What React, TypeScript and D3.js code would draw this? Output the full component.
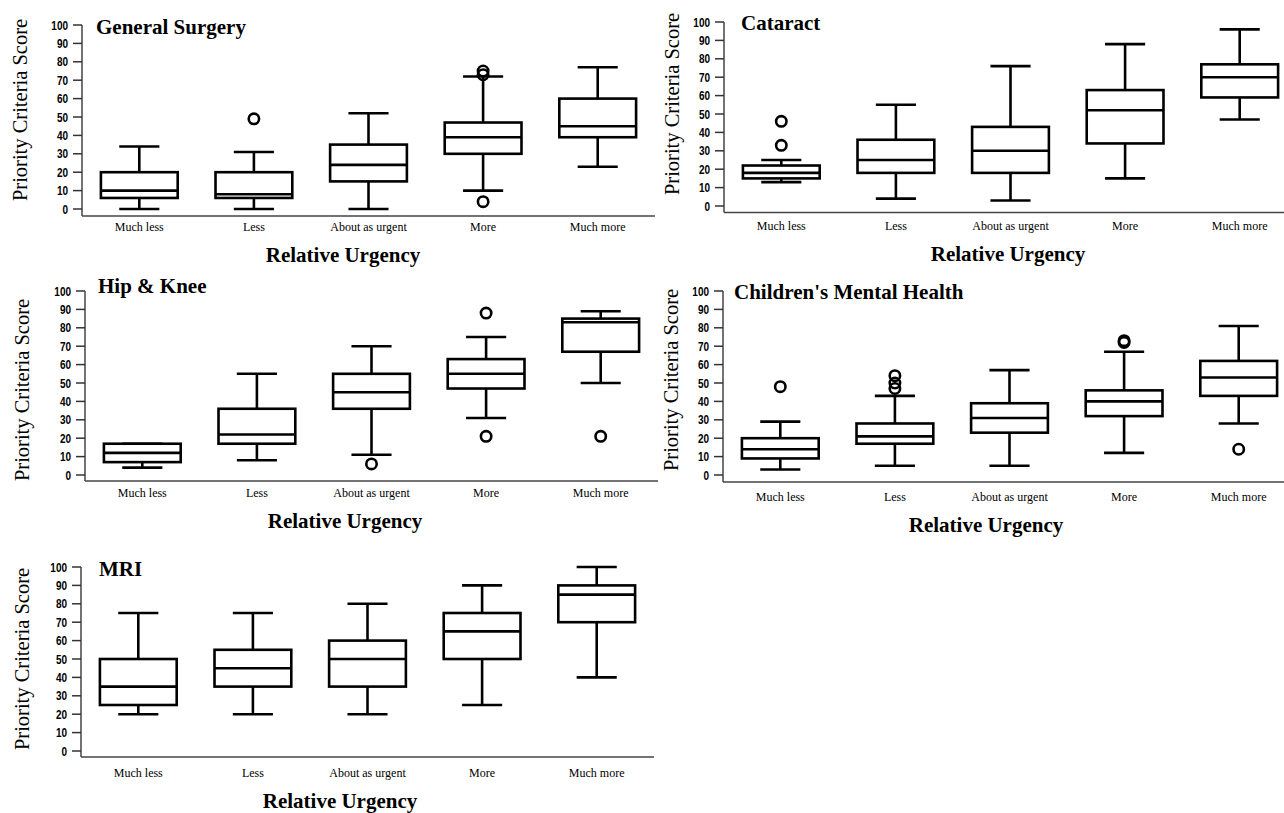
import * as d3 from "d3";
import { useEffect, useRef } from "react";

const categories = ["Much less", "Less", "About as urgent", "More", "Much more"];
const yTicks = [0, 10, 20, 30, 40, 50, 60, 70, 80, 90, 100];

// each box: [low whisker, q1, median, q3, high whisker]
const surgeryBoxes = [[0, 6, 10, 20, 34], [0, 6, 8, 20, 31], [0, 15, 24, 35, 52], [10, 30, 39, 47, 72], [23, 39, 45, 60, 77]];
const surgeryOutliers = [[], [49], [], [75, 73, 4], []];

const cataractBoxes = [[13, 15, 18, 22, 25], [4, 18, 25, 36, 55], [3, 18, 30, 43, 76], [15, 34, 52, 63, 88], [47, 59, 70, 77, 96]];
const cataractOutliers = [[46, 33], [], [], [], []];

const hipKneeBoxes = [[4, 7, 12, 17, 17], [8, 17, 22, 36, 55], [11, 36, 45, 55, 70], [31, 47, 55, 63, 75], [50, 67, 83, 85, 89]];
const hipKneeOutliers = [[], [], [6], [88, 21], [21]];

const mentalHealthBoxes = [[3, 9, 14, 20, 29], [5, 17, 21, 28, 43], [5, 23, 31, 39, 57], [12, 32, 40, 46, 67], [28, 43, 53, 62, 81]];
const mentalHealthOutliers = [[48], [54, 50, 47], [], [73, 72], [14]];

const mriBoxes = [[20, 25, 35, 50, 75], [20, 35, 45, 55, 75], [20, 35, 50, 60, 80], [25, 50, 65, 75, 90], [40, 70, 85, 90, 100]];
const mriOutliers = [[], [], [], [], []];

type Panel = {
    title: string;
    boxes: number[][];
    outliers: number[][];
    left: number; right: number; y100: number; y0: number; axisY: number;
    titleX: number; titleY: number;
    yLabelX: number; yLabelY: number;
    tickY: number;
    xTitleX: number; xTitleY: number;
};

const panels: Panel[] = [
    { title: "General Surgery", boxes: surgeryBoxes, outliers: surgeryOutliers,
      left: 82, right: 655, y100: 25, y0: 209, axisY: 216, titleX: 96, titleY: 34,
      yLabelX: 27, yLabelY: 110, tickY: 231, xTitleX: 343, xTitleY: 262 },
    { title: "Cataract", boxes: cataractBoxes, outliers: cataractOutliers,
      left: 724, right: 1297, y100: 22, y0: 206, axisY: 212.5, titleX: 741, titleY: 30,
      yLabelX: 679, yLabelY: 104, tickY: 230, xTitleX: 1008, xTitleY: 261 },
    { title: "Hip & Knee", boxes: hipKneeBoxes, outliers: hipKneeOutliers,
      left: 85, right: 658, y100: 291, y0: 475, axisY: 481, titleX: 98, titleY: 293,
      yLabelX: 29, yLabelY: 390, tickY: 497, xTitleX: 345, xTitleY: 528 },
    { title: "Children's Mental Health", boxes: mentalHealthBoxes, outliers: mentalHealthOutliers,
      left: 723, right: 1296, y100: 291, y0: 475, axisY: 482, titleX: 734, titleY: 299,
      yLabelX: 678, yLabelY: 380, tickY: 501, xTitleX: 986, xTitleY: 532 },
    { title: "MRI", boxes: mriBoxes, outliers: mriOutliers,
      left: 81, right: 654, y100: 567, y0: 751, axisY: 757, titleX: 99, titleY: 576,
      yLabelX: 29, yLabelY: 659, tickY: 777, xTitleX: 340, xTitleY: 808 },
];

const serif = "'Liberation Serif', 'Times New Roman', serif";
const sans = "'Liberation Sans', Arial, sans-serif";

const App = () => {
    const ref = useRef<SVGSVGElement | null>(null);

    useEffect(() => {
        if (!ref.current) return;
        const svg = d3.select(ref.current);
        svg.selectAll("*").remove();

        panels.forEach(p => {
            const g = svg.append("g");

            const x = d3.scaleBand().domain(categories).range([p.left, p.right]).padding(0);
            const y = d3.scaleLinear().domain([0, 100]).range([p.y0, p.y100]);
            const bw = x.bandwidth();
            const boxW = bw * 0.67;
            const capW = bw * 0.35;

            // axes
            g.append("line")
                .attr("x1", p.left).attr("x2", p.left)
                .attr("y1", y(100)).attr("y2", p.axisY)
                .attr("stroke", "#444").attr("stroke-width", 1.5);
            g.append("line")
                .attr("x1", p.left).attr("x2", p.right)
                .attr("y1", p.axisY).attr("y2", p.axisY)
                .attr("stroke", "#444").attr("stroke-width", 1.5);

            g.selectAll(".ytick")
                .data(yTicks)
                .join("line")
                .attr("x1", p.left - 9).attr("x2", p.left)
                .attr("y1", d => y(d)).attr("y2", d => y(d))
                .attr("stroke", "#333").attr("stroke-width", 1.5);

            // narrow bold tick numbers (condensed by a horizontal scale)
            g.selectAll(".ylab")
                .data(yTicks)
                .join("text")
                .attr("transform", d => `translate(${p.left - 14},${y(d) + 4.5}) scale(0.8,1)`)
                .attr("text-anchor", "end")
                .style("font-family", sans)
                .style("font-weight", "bold")
                .style("font-size", "12.5px")
                .text(d => d);

            g.selectAll(".xlab")
                .data(categories)
                .join("text")
                .attr("x", d => x(d)! + bw / 2)
                .attr("y", p.tickY)
                .attr("text-anchor", "middle")
                .style("font-family", serif)
                .style("font-size", "12px")
                .text(d => d);

            // boxes
            p.boxes.forEach((b, i) => {
                const cx = x(categories[i])! + bw / 2;
                const [lo, q1, med, q3, hi] = b;
                const bx = g.append("g")
                    .attr("stroke", "#000")
                    .attr("stroke-width", 2.6)
                    .attr("fill", "none");
                bx.append("line").attr("x1", cx).attr("x2", cx).attr("y1", y(q3)).attr("y2", y(hi));
                bx.append("line").attr("x1", cx).attr("x2", cx).attr("y1", y(q1)).attr("y2", y(lo));
                bx.append("line").attr("x1", cx - capW / 2).attr("x2", cx + capW / 2).attr("y1", y(hi)).attr("y2", y(hi));
                bx.append("line").attr("x1", cx - capW / 2).attr("x2", cx + capW / 2).attr("y1", y(lo)).attr("y2", y(lo));
                bx.append("rect")
                    .attr("x", cx - boxW / 2).attr("width", boxW)
                    .attr("y", y(q3)).attr("height", y(q1) - y(q3));
                bx.append("line").attr("x1", cx - boxW / 2).attr("x2", cx + boxW / 2).attr("y1", y(med)).attr("y2", y(med));

                bx.selectAll("circle")
                    .data(p.outliers[i])
                    .join("circle")
                    .attr("cx", cx)
                    .attr("cy", d => y(d))
                    .attr("r", 5.2);
            });

            // titles
            g.append("text")
                .attr("x", p.titleX).attr("y", p.titleY)
                .style("font-family", serif)
                .style("font-weight", "bold")
                .style("font-size", "21px")
                .text(p.title);

            g.append("text")
                .attr("transform", `translate(${p.yLabelX},${p.yLabelY}) rotate(-90)`)
                .attr("text-anchor", "middle")
                .style("font-family", serif)
                .style("font-size", "20.5px")
                .text("Priority Criteria Score");

            g.append("text")
                .attr("x", p.xTitleX).attr("y", p.xTitleY)
                .attr("text-anchor", "middle")
                .style("font-family", serif)
                .style("font-weight", "bold")
                .style("font-size", "21px")
                .text("Relative Urgency");
        });
    }, []);

    return (
        <svg ref={ref} width={1284} height={813}
            style={{ position: "absolute", left: 0, top: 0, background: "#fff" }} />
    );
};

export default App;
